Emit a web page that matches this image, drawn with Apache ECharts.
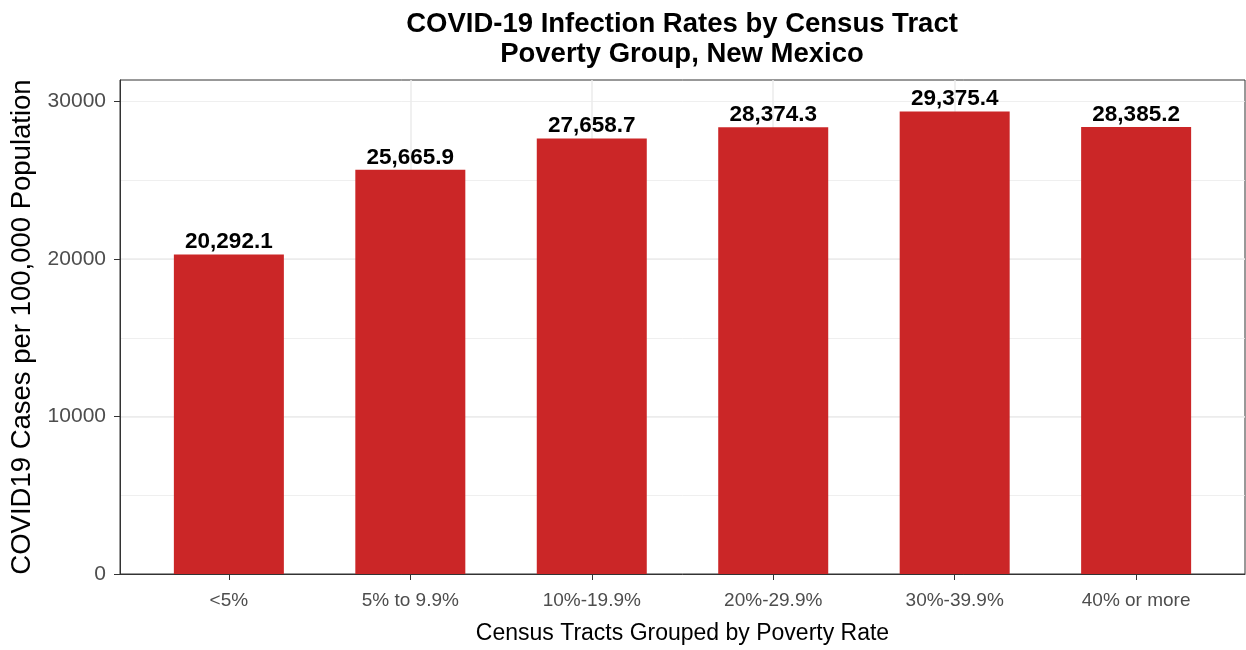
<!DOCTYPE html>
<html>
<head>
<meta charset="utf-8">
<script src="https://cdn.jsdelivr.net/npm/echarts@6/dist/echarts.min.js"></script>
<style>
  html, body { margin: 0; padding: 0; background: #fff; }
  #chart { width: 1246px; height: 650px; }
</style>
</head>
<body>
<div id="chart"></div>
<script>
// poverty groups and rates
var categories = ['<5%', '5% to 9.9%', '10%-19.9%', '20%-29.9%', '30%-39.9%', '40% or more'];
var rates = [20292.1, 25665.9, 27658.7, 28374.3, 29375.4, 28385.2];
var yTicks = [0, 10000, 20000, 30000];

var chart = echarts.init(document.getElementById('chart'));

// category positions 1..6 on a value axis, like ggplot's discrete scale
var positions = categories.map(function (c, i) { return i + 1; });
var barData = rates.map(function (v, i) { return [positions[i], v]; });

function fmt(v) {
    return v.toLocaleString('en-US', {minimumFractionDigits: 1, maximumFractionDigits: 1});
}

var option = {
    backgroundColor: '#fff',
    textStyle: { fontFamily: 'Liberation Sans' },
    title: {
        text: 'COVID-19 Infection Rates by Census Tract\nPoverty Group, New Mexico',
        left: 682,
        top: 9,
        padding: 0,
        textAlign: 'center',
        textStyle: {
            fontFamily: 'Liberation Sans',
            fontSize: 27.5,
            fontWeight: 'bold',
            color: '#000',
            lineHeight: 30
        }
    },
    grid: {
        left: 120, right: 1, top: 80, bottom: 74,
        show: true,
        borderColor: '#333',
        borderWidth: 1,
        backgroundColor: 'transparent'
    },
    xAxis: {
        type: 'value',
        min: 0.4,
        max: 6.6,
        name: 'Census Tracts Grouped by Poverty Rate',
        nameLocation: 'middle',
        nameGap: 48,
        nameTextStyle: { fontSize: 23, color: '#000', fontFamily: 'Liberation Sans' },
        axisLine: { show: true, lineStyle: { color: '#333', width: 1 } },
        axisTick: {
            show: true, length: 6, customValues: positions,
            lineStyle: { color: '#333', width: 1 }
        },
        axisLabel: {
            customValues: positions,
            fontSize: 19,
            color: '#4d4d4d',
            margin: 17,
            formatter: function (v) { return categories[Math.round(v) - 1] || ''; }
        },
        splitLine: {
            show: true, showMinLine: false, showMaxLine: false,
            lineStyle: { color: '#ebebeb', width: 1.5 }
        }
    },
    yAxis: [{
        type: 'value',
        min: 0,
        max: 31370,
        name: 'COVID19 Cases per 100,000 Population',
        nameLocation: 'middle',
        nameGap: 73,
        nameTextStyle: { fontSize: 27.5, color: '#000', fontFamily: 'Liberation Sans' },
        axisLine: { show: true, lineStyle: { color: '#333', width: 1 } },
        axisTick: {
            show: true, length: 6, customValues: yTicks,
            lineStyle: { color: '#333', width: 1 }
        },
        axisLabel: {
            customValues: yTicks,
            fontSize: 21,
            color: '#4d4d4d',
            margin: 14,
            formatter: function (v) { return String(v); }
        },
        splitLine: {
            show: true, showMinLine: false, showMaxLine: false,
            lineStyle: { color: '#ebebeb', width: 1.5 }
        }
    }, {
        // minor grid lines every 5000
        type: 'value',
        min: 0,
        max: 31370,
        interval: 5000,
        position: 'left',
        axisLine: { show: false },
        axisTick: { show: false },
        axisLabel: { show: false },
        splitLine: {
            show: true, showMinLine: false, showMaxLine: false,
            lineStyle: { color: '#ebebeb', width: 0.8 }
        }
    }],
    series: [{
        type: 'bar',
        data: barData,
        barWidth: 110,
        itemStyle: { color: '#cb2627' },
        label: {
            show: true,
            position: 'top',
            distance: 1,
            fontSize: 22.5,
            fontWeight: 'bold',
            color: '#000',
            fontFamily: 'Liberation Sans',
            formatter: function (p) { return fmt(p.value[1]); }
        },
        silent: true
    }],
    animation: false
};

chart.setOption(option);
</script>
</body>
</html>
